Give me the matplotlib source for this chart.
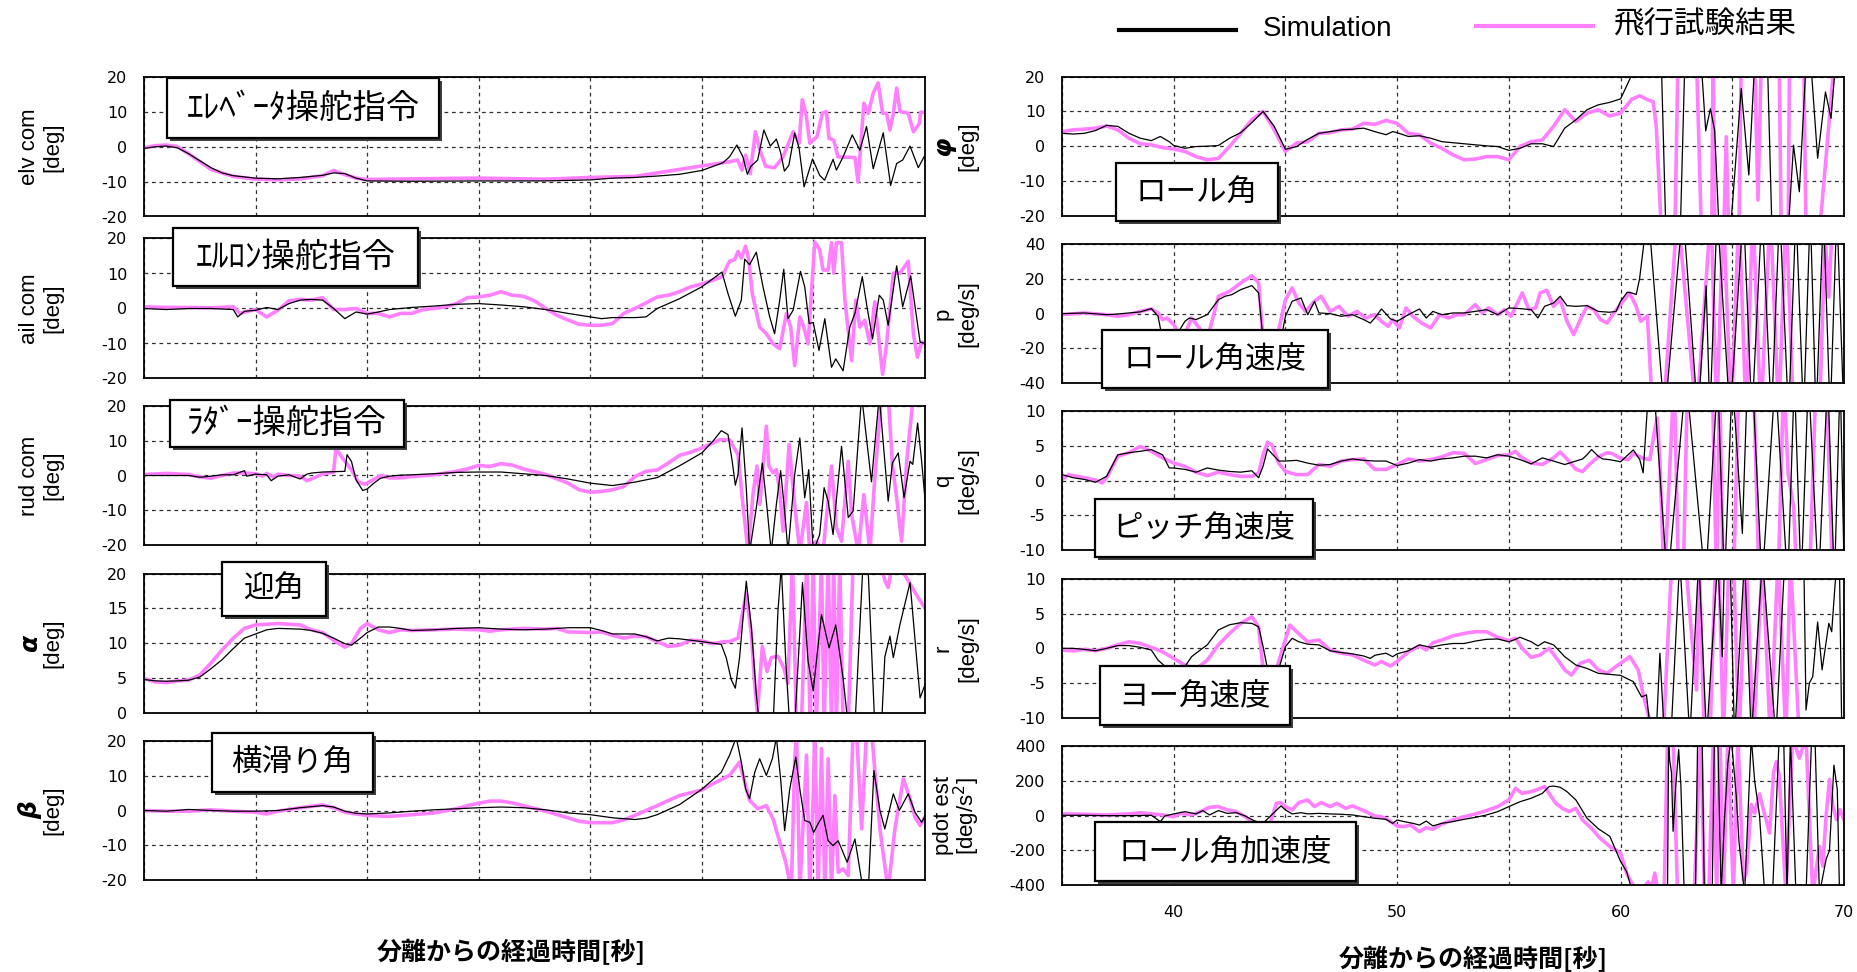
import numpy as np
import matplotlib
matplotlib.use('Agg')
import matplotlib.pyplot as plt
from matplotlib import font_manager as fm
from matplotlib.patches import Rectangle
from matplotlib.lines import Line2D

plt.rcParams['axes.unicode_minus'] = False

# ---------------- data (time [s], value) ----------------
ELV_SIM = [(35,-0.5),(35.5,0),(36,0.2),(36.5,-0.3),(37,-2),(37.5,-4),(38,-6),(38.5,-7.5),(39,-8.3),(40,-9),(41,-9.2),(42,-8.8),(43,-8.2),(43.5,-7.5),(44,-7.7),(44.5,-9),(45,-9.8),(47,-9.9),(50,-9.8),(53,-9.8),(55,-9.5),(56,-9.0),(57,-8.8),(58,-8.4),(59,-7.9),(60,-6.8),(60.94,-4.6),(61.24,-2.9),(61.57,0.5),(61.84,-2.9),(62.04,-7.9),(62.2,-5.6),(62.5,-3.8),(62.78,4.8),(63.07,0.2),(63.34,2.2),(63.53,-1.7),(63.7,-7.0),(63.9,-5.3),(64.16,4.0),(64.36,-0.5),(64.58,-11.5),(64.96,-3.5),(65.28,-8.2),(65.5,-9.6),(65.88,-3.6),(66.03,-6.7),(66.33,-2.9),(66.74,3.4),(67.08,-1.0),(67.38,5.8),(67.68,-6.3),(68.13,4.0),(68.46,-11.1),(68.73,-4.8),(69.0,-3.8),(69.33,0.2),(69.7,-6.0),(70.0,-2.4)]
ELV_FLT = [(35,-0.3),(35.5,0.3),(36,0.5),(36.5,0),(37,-2),(38,-6.5),(39,-8.5),(40,-9.3),(41,-9.5),(42,-9.2),(43,-8.3),(43.5,-6.8),(44,-8),(44.5,-9),(45,-9.4),(47,-9.2),(50,-9),(53,-9.3),(55,-8.8),(57,-8.5),(58,-7.5),(59,-6.5),(60,-5.5),(61.24,-4.3),(61.6,-3.8),(61.8,-6.7),(61.96,-2.4),(62.17,-7.7),(62.4,4.3),(62.6,-1.0),(62.86,-5.6),(63.26,-6.0),(63.64,-2.9),(64.09,4.3),(64.36,1.0),(64.5,13.5),(64.66,9.6),(64.84,1.0),(65.16,2.9),(65.4,9.6),(65.58,10.1),(65.7,2.4),(65.91,1.9),(66.1,-2.9),(66.86,-3.1),(67.0,-10.1),(67.26,12.5),(67.46,9.6),(67.68,15.4),(67.9,18.3),(68.1,9.6),(68.28,9.6),(68.43,4.8),(68.58,9.6),(68.73,16.8),(68.88,10.1),(69.25,9.6),(69.48,4.3),(69.75,6.7),(69.8,9.9),(70,9.9)]

AIL_SIM = [(35,0),(36,-0.3),(37,0),(38,0),(39,-0.3),(39.2,-2.4),(39.5,-0.8),(40,-0.5),(40.5,0.3),(41,-0.3),(41.5,1.4),(42,2.4),(42.5,2.6),(43,2.4),(43.5,0),(44,-2.9),(44.5,-1),(45,-1.6),(45.5,-1),(46,-0.3),(47,0.3),(48,0.7),(49,1.2),(50,1.4),(51,1),(52,0.5),(53,-0.3),(54,-1.4),(55,-2.4),(55.5,-2.9),(56,-2.6),(57,-2.6),(57.5,-2.4),(58,0),(59,2.8),(60,6.2),(60.9,10.4),(61.17,4.3),(61.5,-2.2),(61.77,2.4),(61.92,14.1),(62.14,12.5),(62.44,16.1),(62.74,6.2),(63.04,-2.4),(63.26,-7.2),(63.49,2.4),(63.67,11.2),(63.86,-2.9),(64.09,-0.5),(64.42,10.6),(64.61,6.2),(64.81,-4.3),(64.99,-4.0),(65.25,-12),(65.51,-2.9),(65.81,-16.8),(66.0,-14.4),(66.33,-17.8),(66.63,-5.3),(66.86,-1.4),(67.19,9.1),(67.4,0.5),(67.65,-8.7),(67.95,3.8),(68.13,2.4),(68.35,-4.8),(68.73,12.2),(69.0,0.5),(69.36,9.3),(69.78,-9.6),(70,-10)]
AIL_FLT = [(35,0.5),(36,0.3),(37,0.3),(38,0.2),(39,0.5),(39.3,-1.4),(39.7,-0.7),(40,-0.3),(40.5,-2.4),(41,-0.5),(41.5,2.2),(42,2.6),(42.5,2.4),(43,3.1),(43.5,-0.3),(44,-0.3),(44.5,0),(45,-1.4),(45.5,-1.4),(46,-2.4),(46.5,-1.4),(47,-1.4),(47.5,-0.3),(48,0),(48.5,0.5),(49,1.4),(49.5,3.1),(50,3.3),(50.5,3.8),(51,4.8),(51.5,3.8),(52,3.5),(52.5,2.2),(53,0),(53.5,-1.9),(54,-3.3),(54.5,-4.5),(55,-4.8),(55.5,-4.8),(56,-4.3),(56.5,-1.4),(57,0),(57.5,1.6),(58,3.3),(58.5,3.8),(59,4.8),(59.5,6.2),(60,7.0),(60.5,8.1),(60.9,9.1),(61.24,13.5),(61.47,14),(61.62,16.3),(61.77,14.4),(61.96,17.8),(62.1,14),(62.26,4.3),(62.59,-5.3),(62.89,-7.2),(63.19,-10.1),(63.49,-11.5),(63.79,-1.4),(63.98,-5.3),(64.16,-16.3),(64.39,-2.4),(64.57,-5.3),(64.76,-10.1),(65.06,19),(65.28,16.8),(65.43,11),(65.66,11),(65.81,18.8),(65.91,10.1),(66.03,18.8),(66.26,18.8),(66.41,2.4),(66.71,-14.9),(66.9,2.4),(67.08,-5.3),(67.3,-3.4),(67.53,-10.1),(67.75,1.9),(68.1,-18.8),(68.28,-10.1),(68.58,10.1),(68.88,10.1),(69.25,13.5),(69.48,-7.2),(69.66,-13.9),(69.85,-9.6),(70,-10.1)]

RUD_SIM = [(35,0),(36,0),(37,0),(37.5,-0.5),(38,-0.2),(38.5,0.2),(39,0.2),(39.5,1.4),(39.6,-0.2),(40,0.4),(40.5,0.2),(40.7,-1.5),(41,-0.2),(41.5,0.2),(42,-1.0),(42.3,0.4),(42.5,0.7),(43,1.0),(43.5,1.1),(44,1.2),(44.1,6),(44.3,4),(44.5,-1.2),(44.8,-4.3),(45,-3.9),(45.3,-2.2),(45.6,-0.8),(46,-0.2),(46.5,0.1),(47,0.2),(48,0.5),(49,0.9),(50,1.0),(51,1.0),(52,0.5),(53,0),(54,-1.0),(55,-2.2),(56,-2.9),(57,-1.9),(58,-0.6),(59,2.8),(60,6.5),(60.5,9.9),(60.87,12.9),(61.17,11.8),(61.36,4.1),(61.5,-2.8),(61.62,0.3),(61.8,13.7),(61.99,-3.5),(62.14,-22),(62.44,-9.3),(62.71,3.6),(62.92,-9.3),(63.11,-22),(63.34,-8.3),(63.53,1.4),(63.71,-10.2),(63.86,-22),(64.16,0.3),(64.39,10.8),(64.61,-6.4),(64.79,1.7),(64.99,-22),(65.28,-17),(65.48,-3.5),(65.66,-7.4),(65.88,-17),(66.26,8.4),(66.56,-12.1),(66.78,-10.2),(67.16,23),(67.6,-1.8),(67.95,23),(68.35,-7.4),(68.54,3.6),(68.8,6.5),(69.06,-6.4),(69.33,4.1),(69.45,3.2),(69.67,15.1),(69.85,4.1),(70.0,-6.9)]
RUD_FLT = [(35,0.3),(36,0.6),(37,0.3),(37.5,-0.4),(38,-0.8),(38.5,0),(39,0.7),(39.5,0.7),(40,0.5),(40.3,-0.2),(40.5,0.6),(40.8,-0.5),(41,0.4),(41.5,0),(42,-0.2),(42.3,-1.5),(42.5,-1),(43,0.4),(43.5,1.0),(43.6,7.9),(43.9,5),(44.3,1.6),(44.6,-1.9),(44.9,-2.5),(45.2,-1.5),(45.6,0),(46,-0.7),(46.5,-0.7),(47,-0.3),(48,0.2),(49,1.2),(49.5,1.9),(50,2.9),(50.5,2.6),(51,3.4),(51.5,3.0),(52,1.9),(53,0.3),(54,-2.2),(54.5,-4.1),(55,-4.8),(55.5,-4.6),(56,-4.1),(56.5,-3.2),(57,-0.3),(57.5,1.2),(58,1.6),(58.5,3.6),(59,5.8),(59.5,6.7),(60,7.9),(60.8,10.3),(61.24,10.3),(61.62,6),(61.84,-8.3),(62.07,-22),(62.29,-5.5),(62.47,2.7),(62.6,-8.3),(62.89,14.2),(63.0,2.7),(63.19,0.8),(63.34,1.7),(63.49,-4.5),(63.64,-16),(63.91,8.9),(64.16,-8.3),(64.39,-22),(64.69,-7.8),(64.84,-22),(65.13,-18.9),(65.43,-22),(65.81,2.7),(66.03,-15),(66.26,-18.9),(66.56,4.1),(66.71,-11.2),(67.01,-22),(67.26,-5.5),(67.53,-22),(67.75,-0.7),(68.05,23),(68.35,23),(68.54,3.2),(68.73,-6.4),(68.95,-18.9),(69.18,4.1),(69.48,23),(70.0,23)]

ALPHA_SIM = [(35,4.75),(35.5,4.55),(36,4.5),(36.5,4.55),(37,4.65),(37.5,5.1),(38,6.3),(38.5,7.6),(39,9.2),(39.5,10.7),(40,11.3),(40.5,11.9),(41,12.1),(42,12.0),(42.5,11.8),(43,11.4),(43.5,10.7),(44,9.9),(44.3,9.7),(44.7,10.7),(45,11.5),(45.5,12.3),(46,12.3),(46.5,12.1),(47,11.8),(48,11.9),(49,12.1),(50,12.2),(51,12.0),(52,11.9),(53,12.0),(54,12.2),(55,12.2),(55.5,11.8),(56,11.3),(57,11.3),(57.5,10.9),(58,10.3),(58.5,10.7),(59,10.6),(60,10.2),(60.87,9.8),(61.09,7.9),(61.32,4.7),(61.5,3.5),(61.69,7.9),(61.99,18.9),(62.22,12.2),(62.44,2.6),(62.59,-2),(63.19,-2),(63.41,14.6),(63.56,21),(63.76,7.4),(63.94,-2),(64.16,-2),(64.51,18.7),(64.76,7.4),(64.99,3.1),(65.36,14.1),(65.7,9.3),(66.0,12.6),(66.33,4.9),(66.56,-2),(66.86,-2),(67.23,22),(67.46,20),(67.75,-2),(68.05,-2),(68.2,8),(68.43,11.0),(68.58,7.9),(68.88,12.7),(69.33,18.7),(69.78,2.1),(70,4)]
ALPHA_FLT = [(35,4.9),(35.5,4.4),(36,4.3),(36.5,4.55),(37,4.65),(37.5,5.4),(38,7.1),(38.5,9.0),(39,10.7),(39.5,12.1),(40,12.6),(41,12.8),(42,12.6),(42.5,11.9),(43,11.5),(43.5,10.4),(44,9.4),(44.3,9.9),(44.7,12.1),(45,12.8),(45.5,11.9),(46,11.5),(46.5,11.9),(47,11.8),(48,11.9),(49,12),(50,11.9),(50.5,11.7),(51,11.9),(52,12.1),(53,12),(53.5,12.1),(54,11.6),(55,11.5),(55.5,11.6),(56,11.1),(56.5,10.7),(57,11),(57.5,10.9),(58,10.2),(58.5,9.5),(59,9.7),(59.5,10.4),(60,10.3),(60.5,9.9),(61,10.2),(61.24,10.2),(61.62,10.7),(61.99,17.2),(62.22,11.2),(62.37,4),(62.49,0),(62.71,9.5),(62.92,5.9),(63.11,7.9),(63.41,8.1),(63.67,6.4),(63.86,4.2),(64.06,22),(64.24,-2),(64.46,-2),(64.7,22),(64.85,-2),(64.99,22),(65.13,-2),(65.36,22),(65.48,-2),(65.66,22),(65.81,-2),(65.91,22),(66.03,-2),(66.18,22),(66.33,-2),(66.56,-2),(66.78,22),(68.0,22),(68.2,19),(68.35,18),(68.58,22),(68.88,21),(69.33,18.5),(69.7,16.5),(70,15)]

BETA_SIM = [(35,0),(36,-0.2),(37,0.3),(38,0),(39,-0.2),(40,-0.2),(41,0),(42,0.8),(43,1.4),(43.5,1.0),(44,-0.2),(44.5,-0.8),(45,-1.0),(46,-0.7),(47,-0.2),(48,0.2),(49,0.5),(50,0.8),(51,1.0),(52,0.8),(53,0.2),(54,-0.7),(55,-1.2),(56,-2.1),(57,-2.6),(57.5,-2.2),(58,-1.2),(59,1.7),(60,6.1),(60.87,11),(61.24,15.9),(61.54,21),(61.77,13.9),(61.96,6.2),(62.14,3.4),(62.37,11),(62.59,14.9),(62.89,10.1),(63.16,14.9),(63.34,21),(63.53,9.1),(63.71,-5.8),(63.94,6.2),(64.21,15.4),(64.39,6.2),(64.61,-2.9),(64.84,-3.4),(65.01,-6.3),(65.21,-3.8),(65.43,-1.4),(65.66,-8.7),(65.88,-10.1),(66.11,-8.7),(66.51,-14.9),(66.86,-8.2),(67.23,-23),(67.46,-23),(67.71,11.5),(67.98,0),(68.2,-5.3),(68.58,4.8),(68.85,0),(69.25,4.8),(69.55,-0.5),(69.85,-3.4),(70,-1.6)]
BETA_FLT = [(35,0),(36,-0.2),(37,-0.2),(38,0.2),(39,-0.2),(40,-0.5),(40.5,-1.0),(41,-0.2),(42,0.8),(43,1.6),(43.5,0.8),(44,-0.5),(44.5,-1),(45,-1.4),(46,-1.7),(47,-1.2),(48,-0.7),(49,0.5),(49.5,1.4),(50,2.1),(50.5,2.7),(51,2.7),(51.5,2.2),(52,1.4),(53,-0.2),(54,-2.1),(54.5,-3.1),(55,-3.5),(56,-3.5),(56.5,-2.7),(57,-1.4),(58,1.4),(59,4.3),(60,5.9),(60.5,7.7),(61.24,10.1),(61.69,13.9),(61.92,8.2),(62.14,2.9),(62.51,0.5),(62.89,1.4),(63.19,-2.4),(63.49,-9.1),(63.76,-14.9),(64.01,-23),(64.16,13.9),(64.24,23),(64.39,-23),(64.69,15.9),(64.84,-23),(64.99,4.3),(65.06,23),(65.21,-23),(65.36,17.8),(65.51,-23),(65.66,14.9),(65.81,-23),(65.96,4.3),(66.11,-17.8),(66.33,-16.8),(66.56,-18.7),(66.78,23),(66.93,23),(67.16,-5.3),(67.38,23),(67.6,23),(67.98,-5.3),(68.35,-23),(68.65,-5.3),(69.03,9.1),(69.33,3.4),(69.55,-1.9),(69.78,-4.3),(70,-1.9)]

PHI_SIM = [(35,3.7),(35.5,3.5),(36,3.7),(36.5,4.5),(37,6.0),(37.5,5.7),(38,3.7),(38.5,2.3),(39,1.6),(39.4,2.8),(39.8,1.3),(40,0.2),(40.5,-0.6),(41,-0.1),(41.5,0),(42,0.2),(42.5,2.3),(43,3.9),(43.5,6.8),(44,10),(44.5,5.7),(45,-0.9),(45.5,-0.1),(46,2.0),(46.5,3.7),(47,4.2),(47.5,4.7),(48,4.9),(48.5,5.2),(49,4.2),(49.5,3.3),(49.8,4.2),(50,3.9),(50.5,2.8),(51,3.0),(51.5,2.3),(52,1.3),(53,0.7),(54,0.1),(54.5,-0.1),(55,-1.2),(55.5,-0.6),(56,0.7),(56.5,0.7),(57,-0.1),(57.5,5.2),(58,7.6),(58.5,10.5),(59,11.9),(59.5,12.6),(60,13.6),(60.5,20.5),(61.0,30),(61.8,30),(62.05,-30),(62.65,-30),(62.9,30),(63.55,30),(63.81,4.4),(64.02,10.8),(64.21,4.6),(64.45,-30),(64.85,-30),(65.4,16.6),(65.74,-8.3),(66.05,30),(66.55,30),(66.8,-30),(67.45,-30),(67.74,0.3),(68.0,-13.1),(68.35,30),(68.45,30),(68.82,-3.5),(69.17,15.6),(69.42,8),(69.7,30),(70,30)]
PHI_FLT = [(35,4.2),(35.5,4.7),(36,4.9),(36.5,5.2),(37,5.8),(37.5,4.7),(38,2.3),(38.5,0.7),(39,0.4),(39.5,-0.4),(40,-0.8),(40.5,-1.5),(41,-3.0),(41.5,-3.9),(42,-3.5),(42.5,-0.1),(43,3.7),(43.5,7.6),(44,10),(44.5,4.7),(45,-1.5),(45.5,0.9),(46,1.3),(46.5,3.7),(47,3.9),(47.5,4.7),(48,4.9),(48.5,6.6),(49,6.3),(49.5,7.4),(50,6.6),(50.5,3.7),(51,3.3),(51.5,0.9),(52,-0.6),(52.5,-2.5),(53,-3.9),(53.5,-3.7),(54,-3.0),(54.5,-3.0),(55,-3.9),(55.5,-0.1),(56,1.3),(56.5,1.8),(57,5.7),(57.5,10.5),(58,7.1),(58.5,9.5),(59,10.5),(59.5,8.7),(60,9.5),(60.5,13.5),(60.86,14.5),(61.2,13.4),(61.46,12.8),(61.6,5.6),(61.83,-25),(62.43,-25),(62.57,25),(63.4,25),(63.62,-25),(64.08,-25),(64.14,25),(64.22,-25),(64.62,-25),(64.73,2.7),(64.84,-25),(65.3,-25),(65.4,25),(66.0,25),(66.15,-15.5),(66.3,25),(67.1,25),(67.19,-25),(67.5,-25),(67.56,25),(68.2,25),(68.3,-25),(68.9,-25),(69.2,-3.0),(69.57,25),(70,25)]

P_SIM = [(35,0),(36,0.4),(37,-0.6),(37.5,-0.2),(38,0.4),(38.5,1),(39,2.9),(39.3,-1.5),(39.5,-15),(40,-15),(40.5,-4.4),(40.7,-2.5),(41,-3.4),(41.5,-0.6),(42,8),(42.3,10),(42.6,10.9),(43,13.8),(43.5,16.1),(43.8,11.9),(44,-15),(44.8,-15),(45.0,-1.5),(45.3,7.1),(45.7,9),(46,-0.6),(46.3,7),(46.5,0.4),(47,0),(47.5,-1.5),(48,-0.6),(48.5,-3.4),(48.8,-5.4),(49,-2.5),(49.3,2.7),(49.7,-3),(50,-4.4),(50.5,-0.6),(51,2.7),(51.3,-2.5),(51.6,1.3),(52,-0.6),(52.5,0.4),(53,0.4),(53.5,1.3),(54,2.3),(54.5,-0.6),(55,3.3),(55.5,2.9),(56,2.3),(56.3,-2.5),(56.6,4.2),(57,6.1),(57.3,10),(57.6,4.6),(58,4.2),(58.5,4.6),(59,1.3),(59.5,0.8),(59.8,1.3),(60,7.1),(60.3,12.3),(60.5,11.9),(60.7,11),(60.85,20),(61.23,60),(61.97,-60),(62.79,60),(63.46,-60),(63.83,16),(64.0,-60),(64.32,60),(64.9,-60),(65.5,60),(65.88,-60),(66.33,60),(66.75,-60),(67.12,60),(67.52,-60),(67.85,60),(68.19,-60),(68.49,60),(68.75,-60),(69.08,60),(69.38,-60),(69.68,60),(70.0,-60)]
P_FLT = [(35,-0.6),(36,0.4),(37,-0.6),(37.5,-1.5),(38,-0.6),(38.5,1.3),(39,2.7),(39.3,0.4),(39.5,-3.4),(39.7,-2.5),(40,-6.3),(40.4,-15),(40.8,-2.5),(41.2,-9.2),(41.5,-15),(42,10),(42.5,12.8),(43,17.6),(43.5,21.8),(43.8,17.6),(44,-15),(44.6,-15),(45,8),(45.3,14.8),(45.6,6.1),(45.9,1.3),(46.3,7.1),(46.6,10),(47,1.3),(47.4,4.2),(47.8,-1.5),(48.2,1.3),(48.6,-2.5),(49,-0.6),(49.3,-4.4),(49.6,-7.3),(49.8,-3.4),(50.1,-8.2),(50.4,3.3),(50.7,-1.5),(51.1,-5.4),(51.5,-8.2),(51.9,-0.6),(52.3,-2.5),(52.7,-0.6),(53,-0.6),(53.5,5.2),(53.8,0.4),(54.1,3.3),(54.5,-0.6),(54.8,2.3),(55.1,-1.5),(55.6,11.9),(55.9,2.3),(56.2,3.3),(56.4,11.9),(56.7,13.4),(57,4.2),(57.3,8),(57.6,-4.4),(57.9,-12),(58.2,-3.4),(58.5,4.2),(58.8,2.3),(59.1,-3.4),(59.4,-5.4),(59.7,0.4),(60,5.2),(60.4,11.9),(60.7,4.2),(60.9,-4.4),(61.2,-1.2),(61.45,-60),(61.9,-60),(62.55,60),(63.4,-60),(64.05,60),(64.3,-60),(64.6,60),(64.95,-60),(65.3,60),(65.62,-60),(65.92,60),(66.28,-60),(66.7,60),(67.08,-60),(67.4,60),(67.75,-60),(68.9,-60),(69.15,45),(69.32,9.6),(69.45,45),(69.6,60),(70,60)]

Q_SIM = [(35,0.85),(35.5,0.4),(36,0.15),(36.5,-0.25),(37,0.6),(37.5,3.7),(38,4.0),(38.5,4.2),(39,4.45),(39.5,3.7),(39.8,1.8),(40,1.8),(40.5,1.6),(41,1.2),(41.5,1.8),(42,1.5),(42.5,1.3),(43,1.2),(43.5,1.4),(43.8,0.4),(44,2.05),(44.2,4.55),(44.5,3.5),(44.7,2.8),(45,2.8),(45.5,2.9),(46,2.5),(46.5,2.2),(47,2.3),(47.5,2.8),(48,3.1),(48.5,2.9),(49,2.8),(49.5,2.8),(50,2.15),(50.5,2.5),(51,3.0),(51.5,2.8),(52,3.1),(52.5,3.25),(53,3.5),(53.5,3.5),(54,3.25),(54.5,3.7),(55,3.5),(55.5,3.0),(56,2.4),(56.5,3.25),(57,2.8),(57.5,2.3),(58,2.8),(58.3,3.1),(58.5,3.7),(58.7,4.45),(59,3.5),(59.2,3.1),(59.5,3.0),(60,2.7),(60.57,4.4),(60.86,3.0),(61.01,1.1),(61.19,10),(61.46,15),(62.1,-15),(62.93,15),(63.8,-15),(64.35,15),(64.65,-15),(65.0,15),(65.45,-7.6),(65.63,10),(65.9,15),(66.33,-15),(66.93,15),(67.48,-15),(67.78,15),(68.08,-15),(68.41,15),(68.86,-15),(69.27,15),(69.57,-15),(69.83,15),(70,-12)]
Q_FLT = [(35,0.15),(35.3,0.85),(35.5,0.7),(36,0.4),(36.5,0.05),(36.8,-0.35),(37,0.4),(37.5,3.5),(38,4.0),(38.5,4.9),(39,4.2),(39.5,3.25),(40,2.5),(40.5,2.05),(41,1.2),(41.5,0.7),(42,1.2),(42.5,0.85),(43,0.6),(43.5,0.6),(43.8,1.1),(44,3.7),(44.2,5.5),(44.4,5.1),(44.7,2.5),(45,1.3),(45.5,0.85),(46,0.85),(46.5,2.3),(47,2.05),(47.5,2.8),(48,3.0),(48.5,3.1),(49,1.6),(49.5,1.6),(50,2.3),(50.5,3.1),(51,2.8),(51.5,3.0),(52,3.4),(52.5,4.0),(53,3.9),(53.5,2.45),(54,3.0),(54.5,3.6),(55,3.7),(55.3,4.2),(55.5,3.5),(56,2.5),(56.5,2.3),(57,3.25),(57.3,4.1),(57.6,3.1),(58,1.6),(58.3,1.3),(58.6,2.3),(59,3.4),(59.4,4.0),(59.6,3.9),(60,3.2),(60.34,3.0),(60.57,3.9),(61.0,3.2),(61.31,3.0),(61.53,7.3),(61.64,9.0),(61.76,3),(61.95,-15),(62.4,15),(62.6,-15),(62.8,-15),(63.0,15),(64.1,15),(64.3,-15),(64.43,15),(64.6,-15),(65.05,-15),(65.3,15),(65.95,15),(66.2,-15),(67.05,-15),(67.3,15),(67.5,1),(67.65,-2),(67.75,-4),(67.9,-15),(68.45,-15),(68.75,15),(69.2,15),(69.5,-15),(70,-15)]

R_SIM = [(35,0),(35.5,0),(36,-0.15),(36.5,-0.35),(37,0),(37.5,0.4),(38,0.4),(38.5,0.15),(39,-0.25),(39.3,-1.7),(39.6,-2.55),(40,-2.65),(40.5,-2.65),(40.8,-1.2),(41,-0.7),(41.5,0.5),(42,2.65),(42.5,3.4),(43,3.7),(43.5,3.6),(43.8,3.1),(44,0.25),(44.2,-3),(44.7,-3),(45,0.25),(45.3,1.45),(45.6,0.95),(46,0.6),(46.5,0.5),(47,-0.35),(47.5,-0.6),(48,-0.8),(48.5,-1.1),(48.8,-1.45),(49,-1.0),(49.5,-0.7),(49.8,-1.2),(50,-0.8),(50.5,-0.35),(51,0.5),(51.5,0.15),(52,0.5),(52.5,0.7),(53,0.7),(53.5,1.05),(54,1.3),(54.5,1.35),(55,0.95),(55.3,1.3),(55.5,1.6),(56,0.95),(56.3,0.35),(56.6,0.95),(57,0.5),(57.5,-1.2),(58,-2.4),(58.5,-2.9),(59,-3.6),(59.5,-3.75),(60,-3.9),(60.57,-4.8),(60.94,-7),(61.16,-6.7),(61.34,-12),(61.6,-12),(61.76,-0.7),(61.95,-12),(62.25,-13),(62.65,13),(63.1,-13),(63.5,13),(63.85,-13),(64.35,13),(64.55,-1.2),(64.65,13),(64.9,13),(65.1,-13),(65.55,13),(65.85,-13),(66.35,13),(66.95,-13),(67.35,13),(68.2,13),(68.3,-8.9),(68.45,-5),(68.6,-4.1),(68.82,3.8),(69.02,-3.1),(69.32,3.6),(69.45,2.4),(69.64,11),(69.8,11),(69.9,-12),(70,-12)]
R_FLT = [(35,-0.25),(35.5,-0.35),(36,-0.15),(36.5,-0.35),(37,0),(37.5,0.5),(38,0.95),(38.5,0.7),(39,0.15),(39.5,-0.5),(40,-1.45),(40.5,-2.4),(41,-3),(41.5,-1.7),(42,0.5),(42.5,2.15),(43,3.6),(43.5,4.55),(43.8,3.1),(44,-3),(44.6,-3),(44.9,0.25),(45.2,3.35),(45.5,2.4),(46,0.95),(46.5,1.2),(47,-0.25),(47.5,-0.7),(48,-0.95),(48.5,-1.7),(49,-2.4),(49.3,-1.9),(49.7,-2.55),(50,-1.9),(50.5,-0.5),(51,0.35),(51.3,-0.25),(51.6,0.8),(52,1.2),(52.5,1.8),(53,2.15),(53.5,2.4),(54,2.4),(54.5,1.6),(55,1.1),(55.3,1.45),(55.6,0),(56,-1.3),(56.4,-0.95),(56.8,0),(57.2,-1.7),(57.5,-3.1),(57.8,-3.85),(58.2,-2.15),(58.6,-1.7),(59,-3.1),(59.4,-3.6),(59.8,-2.6),(60.2,-1.7),(60.42,-1.2),(60.79,-3.1),(61.0,-6.5),(61.31,-10.5),(61.5,-13),(61.9,-13),(62.3,13),(62.9,13),(63.15,3),(63.4,-6),(63.52,13),(63.75,-13),(64.0,-13),(64.25,13),(64.4,13),(64.6,-13),(64.85,13),(65.05,13),(65.3,-13),(65.62,13),(65.95,-13),(66.35,13),(66.7,-13),(67.05,13),(67.4,-13),(67.6,13),(68.0,-13),(70,-13)]

PDOT_SIM = [(35,2),(36,2),(37,0),(38,0),(39,2),(39.3,-25),(39.4,-35),(39.6,-2),(40,10),(40.5,23),(41,10),(41.3,29),(41.6,4),(42,29),(42.4,13),(42.8,17),(43.2,-2),(43.6,-29),(44,-44),(44.3,-6),(44.8,56),(45,33),(45.3,10),(45.7,17),(46,10),(46.5,13),(47,10),(47.5,8),(48,4),(48.5,-6),(49,-15),(49.5,-21),(49.8,-44),(50,-25),(50.3,-34),(50.7,-44),(51,-54),(51.3,-31),(51.6,-59),(52,-44),(52.5,-34),(53,-21),(53.5,-10),(54,4),(54.5,23),(55,52),(55.5,80),(56,100),(56.5,128),(56.8,167),(57,170),(57.3,163),(57.6,138),(58,90),(58.5,-15),(59,-75),(59.52,-119),(60,-263),(60.27,-321),(60.49,-420),(61.5,-450),(62.1,-450),(62.15,420),(62.2,320),(62.28,246),(62.35,-90),(62.47,170),(62.6,380),(62.7,170),(62.85,-450),(63.35,-450),(63.45,450),(63.65,450),(63.75,-450),(64.1,-450),(64.2,450),(64.35,450),(64.5,-450),(64.65,-23),(64.8,300),(64.95,450),(65.18,111),(65.3,-150),(65.55,-450),(65.85,450),(66.0,200),(66.22,0),(66.45,-450),(66.8,-450),(67.1,450),(67.3,450),(67.45,-450),(67.6,450),(67.85,-450),(68.3,-450),(68.55,450),(68.7,450),(68.9,-450),(69.2,-250),(69.35,-200),(69.55,290),(69.7,150),(69.8,-450),(70,-450)]
PDOT_FLT = [(35,10),(36,8),(37,4),(38,10),(38.5,17),(39,10),(39.5,4),(40,-6),(40.3,13),(40.8,4),(41.2,23),(41.6,48),(42,52),(42.4,33),(42.8,23),(43.2,-6),(43.6,-44),(44,-63),(44.3,-50),(44.6,71),(44.8,75),(45,52),(45.3,33),(45.6,75),(46,90),(46.3,52),(46.6,75),(47,52),(47.3,71),(47.7,42),(48,56),(48.5,29),(49,-2),(49.3,-6),(49.6,-25),(50,-59),(50.3,-63),(50.6,-54),(51,-92),(51.3,-69),(51.6,-78),(52,-48),(52.5,-25),(53,-6),(53.5,10),(54,29),(54.5,52),(55,90),(55.3,157),(55.6,128),(56,138),(56.3,151),(56.6,167),(56.8,128),(57.1,71),(57.4,42),(57.7,23),(58,42),(58.3,-25),(58.7,-73),(59.08,-129),(59.52,-177),(60,-215),(60.27,-330),(60.6,-410),(61.0,-420),(61.24,-380),(61.4,-410),(61.53,-330),(61.65,-420),(61.95,-450),(62.1,450),(62.35,450),(62.55,-450),(63.3,-450),(63.5,236),(63.6,450),(63.75,-450),(63.95,-450),(64.15,450),(64.3,-450),(64.45,450),(64.6,-450),(64.8,450),(65.05,-450),(65.25,450),(65.5,-370),(65.63,-330),(65.85,65),(66.0,15),(66.22,125),(66.4,30),(66.67,-100),(66.85,250),(66.97,310),(67.1,230),(67.4,-450),(67.7,450),(68.0,330),(68.3,450),(68.6,-450),(68.9,-177),(69.05,-290),(69.2,0),(69.35,208),(69.5,54),(69.67,-23),(69.82,35),(70,-23)]

X_RANGE = (35, 70)
X_GRID = [35, 40, 45, 50, 55, 60, 65, 70]
X_LABELED = [40, 50, 60, 70]

LEGEND_LABELS = ['Simulation', '飛行試験結果']
XLABEL = '分離からの経過時間[秒]'

LEFT_LABELS = [('elv com', '[deg]'), ('ail com', '[deg]'), ('rud com', '[deg]'), ('α', '[deg]'), ('β', '[deg]')]
RIGHT_LABELS = [('φ', '[deg]'), ('p', '[deg/s]'), ('q', '[deg/s]'), ('r', '[deg/s]'), ('pdot est', '[deg/s$^2$]')]
LEFT_TITLES = ['ｴﾚﾍﾞｰﾀ操舵指令', 'ｴﾙﾛﾝ操舵指令', 'ﾗﾀﾞｰ操舵指令', '迎角', '横滑り角']
RIGHT_TITLES = ['ロール角', 'ロール角速度', 'ピッチ角速度', 'ヨー角速度', 'ロール角加速度']

LEFT_YTICKS = [[-20, -10, 0, 10, 20]] * 3 + [[0, 5, 10, 15, 20], [-20, -10, 0, 10, 20]]
RIGHT_YTICKS = [[-20, -10, 0, 10, 20], [-40, -20, 0, 20, 40], [-10, -5, 0, 5, 10],
                [-10, -5, 0, 5, 10], [-400, -200, 0, 200, 400]]

LEFT_SERIES = [(ELV_SIM, ELV_FLT), (AIL_SIM, AIL_FLT), (RUD_SIM, RUD_FLT),
               (ALPHA_SIM, ALPHA_FLT), (BETA_SIM, BETA_FLT)]
RIGHT_SERIES = [(PHI_SIM, PHI_FLT), (P_SIM, P_FLT), (Q_SIM, Q_FLT),
                (R_SIM, R_FLT), (PDOT_SIM, PDOT_FLT)]

# ---------------- layout (pixels of the 1858x972 figure) ----------------
W, H = 1858, 972
PINK = '#ff80ff'
LEFT_X = (144, 925)
RIGHT_X = (1062, 1844)
LEFT_ROWS = [(77, 216.5), (238.5, 378.5), (406, 545), (573.5, 712.5), (741, 880)]
RIGHT_ROWS = [(76.7, 215.7), (244, 383.3), (411, 550), (579, 717.7), (746, 885.3)]
LEFT_BOXES = [(167, 439, 78, 138), (173, 418, 228, 286), (170, 404, 400, 447),
              (222, 326, 562, 616), (212, 373, 733, 792)]
RIGHT_BOXES = [(1116, 1278, 163, 221), (1102, 1328, 330, 388), (1095, 1313, 499, 557),
               (1100, 1290, 666, 725), (1095, 1356, 822, 881)]
LEFT_BOX_FS = [24, 24, 24, 22, 22]
RIGHT_BOX_FS = [22, 22, 22, 22, 22]

names = {f.name for f in fm.fontManager.ttflist}
if 'Liberation Sans Narrow' in names:
    TICK_FAMILY, TICK_SIZE = 'Liberation Sans Narrow', 14
else:
    TICK_FAMILY, TICK_SIZE = 'DejaVu Sans', 11.5
JP = ['Noto Sans CJK JP', 'DejaVu Sans']
SANS = ['Liberation Sans', 'DejaVu Sans']

fig = plt.figure(figsize=(W / 100, H / 100), dpi=100)


def fx(x):
    return x / W


def fy(y):
    return 1 - y / H


def make_axes(xr, row):
    x0, x1 = xr
    top, bot = row
    return fig.add_axes([fx(x0), fy(bot), (x1 - x0) / W, (bot - top) / H])


def style_axes(ax, yticks, show_x):
    ax.set_xlim(*X_RANGE)
    ax.set_ylim(yticks[0], yticks[-1])
    ax.set_xticks(X_GRID)
    ax.set_yticks(yticks)
    ax.set_yticklabels([str(v) for v in yticks], family=TICK_FAMILY, fontsize=TICK_SIZE)
    if show_x:
        ax.set_xticklabels([str(v) if v in X_LABELED else '' for v in X_GRID],
                           family=TICK_FAMILY, fontsize=TICK_SIZE)
    else:
        ax.set_xticklabels([])
    ax.tick_params(axis='both', length=0)
    ax.tick_params(axis='y', pad=12)
    ax.tick_params(axis='x', pad=14)
    ax.grid(True, color='#303030', linestyle=(0, (3, 3)), linewidth=0.9)
    for s in ax.spines.values():
        s.set_linewidth(1.3)
        s.set_color('black')


def add_label(ax, lines, xs):
    first, second = lines
    greek = first in ('α', 'β', 'φ')
    if greek:
        ax.text(xs[0], 0.5, first, transform=ax.transAxes, rotation=90, ha='center',
                va='center', fontsize=18, fontweight='bold', fontstyle='italic',
                family='DejaVu Sans')
    else:
        ax.text(xs[0], 0.5, first, transform=ax.transAxes, rotation=90, ha='center',
                va='center', fontsize=16, family=SANS)
    ax.text(xs[1], 0.5, second, transform=ax.transAxes, rotation=90, ha='center',
            va='center', fontsize=16, family=SANS)


def add_box(box, text, fs):
    x0, x1, y0, y1 = box
    sh = Rectangle((fx(x0 + 3), fy(y1 + 3)), (x1 - x0) / W, (y1 - y0) / H,
                   transform=fig.transFigure, fc='#404040', ec='none', zorder=9)
    rect = Rectangle((fx(x0), fy(y1)), (x1 - x0) / W, (y1 - y0) / H,
                     transform=fig.transFigure, fc='white', ec='black', lw=1.6, zorder=10)
    fig.add_artist(sh)
    fig.add_artist(rect)
    fig.text(fx((x0 + x1) / 2), fy((y0 + y1) / 2), text, ha='center', va='center',
             fontsize=fs, family=JP, zorder=11)


def plot_pair(ax, sim, flt):
    tf, vf = np.array(flt, dtype=float).T
    ts, vs = np.array(sim, dtype=float).T
    ax.plot(tf, vf, color=PINK, lw=2.6, solid_joinstyle='round', zorder=2)
    ax.plot(ts, vs, color='black', lw=0.9, zorder=3)


for i in range(5):
    ax = make_axes(LEFT_X, LEFT_ROWS[i])
    style_axes(ax, LEFT_YTICKS[i], False)
    plot_pair(ax, *LEFT_SERIES[i])
    add_label(ax, LEFT_LABELS[i], (-0.146, -0.117))
    add_box(LEFT_BOXES[i], LEFT_TITLES[i], LEFT_BOX_FS[i])

for i in range(5):
    ax = make_axes(RIGHT_X, RIGHT_ROWS[i])
    style_axes(ax, RIGHT_YTICKS[i], i == 4)
    plot_pair(ax, *RIGHT_SERIES[i])
    add_label(ax, RIGHT_LABELS[i], (-0.152, -0.121))
    add_box(RIGHT_BOXES[i], RIGHT_TITLES[i], RIGHT_BOX_FS[i])

# x labels
fig.text(fx(511), fy(952), XLABEL, ha='center', va='center', fontsize=18,
         fontweight='bold', family=JP)
fig.text(fx(1473), fy(959), XLABEL, ha='center', va='center', fontsize=18,
         fontweight='bold', family=JP)

# legend
fig.add_artist(Line2D([fx(1119), fx(1236)], [fy(30), fy(30)], color='black', lw=3,
                      transform=fig.transFigure))
fig.text(fx(1263), fy(29), LEGEND_LABELS[0], ha='left', va='center', fontsize=20,
         family=SANS)
fig.add_artist(Line2D([fx(1476), fx(1593)], [fy(26), fy(26)], color=PINK, lw=3,
                      transform=fig.transFigure))
fig.text(fx(1613), fy(25), LEGEND_LABELS[1], ha='left', va='center', fontsize=22,
         family=JP)

fig.savefig('out.png', dpi=100)
